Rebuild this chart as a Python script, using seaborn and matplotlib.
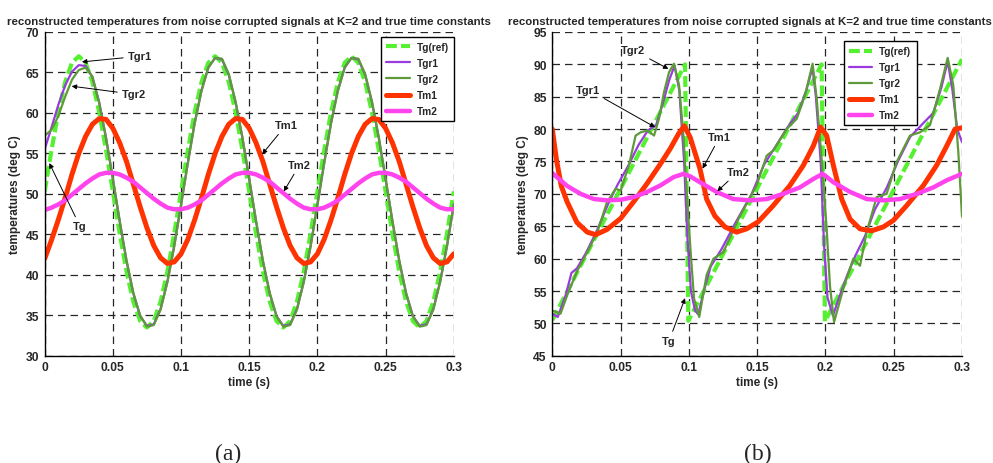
import numpy as np
import seaborn as sns
import matplotlib
matplotlib.use("Agg")
import matplotlib.pyplot as plt

# ---- panel (a): sinusoidal gas temperature, sampled every 5 ms ----
t_a = np.linspace(0, 0.3, 61)
tg_a = [50.3, 55.4, 60.1, 63.8, 66.2, 67.0, 66.2, 63.8, 60.1, 55.4,
        50.3, 45.1, 40.4, 36.7, 34.3, 33.5, 34.3, 36.7, 40.4, 45.1,
        50.3, 55.4, 60.1, 63.8, 66.2, 67.0, 66.2, 63.8, 60.1, 55.4,
        50.3, 45.1, 40.4, 36.7, 34.3, 33.5, 34.3, 36.7, 40.4, 45.1,
        50.3, 55.4, 60.1, 63.8, 66.2, 67.0, 66.2, 63.8, 60.1, 55.4,
        50.3, 45.1, 40.4, 36.7, 34.3, 33.5, 34.3, 36.7, 40.4, 45.1, 50.3]
tgr1_a = [55.5, 58.2, 61.0, 63.4, 65.1, 65.9, 65.8, 64.4, 61.3, 56.9,
          51.8, 46.6, 41.7, 37.7, 34.9, 33.7, 33.9, 35.8, 39.2, 43.6,
          48.7, 53.9, 58.8, 62.8, 65.6, 66.8, 66.6, 64.7, 61.3, 56.9,
          51.8, 46.6, 41.7, 37.7, 34.9, 33.7, 33.9, 35.8, 39.2, 43.6,
          48.7, 53.9, 58.8, 62.8, 65.6, 66.8, 66.6, 64.7, 61.3, 56.9,
          51.8, 46.6, 41.7, 37.7, 34.9, 33.7, 33.9, 35.8, 39.2, 43.6, 48.7]
tgr2_a = [57.2, 57.9, 59.6, 62.0, 64.1, 65.3, 65.6, 64.5, 61.2, 56.9,
          51.9, 46.7, 41.8, 37.8, 35.0, 33.6, 33.8, 35.7, 39.1, 43.5,
          48.6, 53.8, 58.7, 62.7, 65.6, 66.8, 66.7, 64.8, 61.4, 57.0,
          51.9, 46.7, 41.8, 37.8, 34.9, 33.6, 33.8, 35.7, 39.1, 43.5,
          48.6, 53.8, 58.7, 62.7, 65.6, 66.8, 66.7, 64.8, 61.4, 57.0,
          51.9, 46.7, 41.8, 37.8, 34.9, 33.6, 33.8, 35.7, 39.1, 43.5, 48.6]
tm1_a = [42.0, 44.3, 46.8, 49.5, 52.4, 55.0, 57.1, 58.6, 59.3, 59.2,
         58.1, 56.3, 54.0, 51.2, 48.4, 45.8, 43.6, 42.1, 41.4, 41.6,
         42.6, 44.4, 46.8, 49.5, 52.4, 55.0, 57.1, 58.6, 59.3, 59.2,
         58.1, 56.3, 54.0, 51.2, 48.4, 45.8, 43.6, 42.1, 41.4, 41.6,
         42.6, 44.4, 46.8, 49.5, 52.4, 55.0, 57.1, 58.6, 59.3, 59.2,
         58.1, 56.3, 54.0, 51.2, 48.4, 45.8, 43.6, 42.1, 41.4, 41.6, 42.6]
tm2_a = [48.0, 48.3, 48.7, 49.2, 49.9, 50.6, 51.3, 51.9, 52.4, 52.6,
         52.6, 52.4, 52.0, 51.5, 50.8, 50.1, 49.4, 48.8, 48.3, 48.1,
         48.1, 48.3, 48.7, 49.2, 49.9, 50.6, 51.3, 51.9, 52.4, 52.6,
         52.6, 52.4, 52.0, 51.5, 50.8, 50.1, 49.4, 48.8, 48.3, 48.1,
         48.1, 48.3, 48.7, 49.2, 49.9, 50.6, 51.3, 51.9, 52.4, 52.6,
         52.6, 52.4, 52.0, 51.5, 50.8, 50.1, 49.4, 48.8, 48.3, 48.1, 48.1]

# ---- panel (b): sawtooth gas temperature ----
tg_b_t = [0.0, 0.0972, 0.0996, 0.1972, 0.1996, 0.3]
tg_b = [50.5, 90.0, 50.4, 90.0, 50.3, 90.8]

tgr1_b_t = [0.0, 0.004, 0.010, 0.014, 0.018, 0.025, 0.033, 0.041, 0.048, 0.056,
            0.063, 0.070, 0.076, 0.081, 0.0855, 0.0895, 0.093, 0.0965, 0.099,
            0.1015, 0.1045, 0.1068, 0.111, 0.116, 0.124, 0.134, 0.146, 0.155,
            0.164, 0.172, 0.180, 0.186, 0.1905, 0.193, 0.1965, 0.199, 0.2015,
            0.2055, 0.210, 0.216, 0.222, 0.229, 0.236, 0.245, 0.253, 0.262,
            0.272, 0.279, 0.285, 0.2895, 0.293, 0.2965, 0.300]
tgr1_b = [51.5, 51.0, 54.5, 57.8, 58.5, 61.0, 64.5, 68.5, 71.5, 74.5,
          77.5, 79.8, 80.6, 84.0, 87.5, 89.8, 86.0, 75.0, 63.0,
          55.0, 52.0, 51.4, 55.0, 58.8, 61.5, 65.5, 70.0, 74.5,
          77.5, 80.2, 82.5, 86.0, 89.5, 85.0, 75.0, 62.0, 54.0,
          51.2, 54.0, 57.5, 60.5, 63.5, 67.5, 71.0, 75.0, 78.8,
          81.0, 82.5, 86.5, 90.5, 86.0, 80.0, 78.0]

tgr2_b_t = [0.0, 0.006, 0.011, 0.018, 0.0256, 0.033, 0.040, 0.0464, 0.050,
            0.0561, 0.061, 0.0647, 0.0696, 0.0745, 0.0781, 0.0818, 0.0855,
            0.0891, 0.0928, 0.096, 0.0989, 0.1013, 0.1038, 0.1076, 0.113,
            0.118, 0.1252, 0.1374, 0.1496, 0.157, 0.1618, 0.1716, 0.179,
            0.185, 0.1906, 0.1936, 0.1972, 0.2009, 0.2033, 0.2063, 0.2131,
            0.2204, 0.2253, 0.2302, 0.2375, 0.2448, 0.2521, 0.2619, 0.2692,
            0.2765, 0.2839, 0.2895, 0.2936, 0.2973, 0.300]
tgr2_b = [52.0, 51.5, 54.4, 58.0, 61.0, 64.1, 68.7, 70.8, 70.5,
          74.4, 79.0, 79.5, 79.8, 79.0, 81.6, 85.7, 88.8,
          90.1, 86.8, 79.0, 68.7, 61.0, 53.8, 51.0, 57.5,
          60.0, 61.0, 66.6, 71.3, 75.9, 76.7, 80.0, 81.6,
          85.2, 90.1, 84.7, 75.4, 64.6, 55.8, 50.2, 55.4,
          60.0, 58.9, 64.1, 69.5, 70.0, 74.9, 79.0, 79.5,
          80.6, 86.2, 91.0, 86.8, 76.4, 66.5]

tm1_b_t = [0.0, 0.003, 0.0066, 0.011, 0.018, 0.0256, 0.0317, 0.040, 0.050,
           0.0596, 0.0694, 0.0791, 0.0864, 0.0925, 0.0967, 0.101, 0.1032,
           0.1081, 0.113, 0.119, 0.1264, 0.1349, 0.1423, 0.1508, 0.1618,
           0.174, 0.1838, 0.1911, 0.1965, 0.2009, 0.2058, 0.2119, 0.218,
           0.2253, 0.2338, 0.2424, 0.2497, 0.2595, 0.2717, 0.2814, 0.2888,
           0.2949, 0.300]
tm1_b = [80.0, 75.3, 71.2, 68.7, 65.6, 64.1, 63.7, 64.5, 66.2,
         68.8, 71.6, 74.6, 77.0, 79.3, 80.5, 78.7, 77.2,
         73.9, 69.2, 66.6, 64.9, 64.1, 64.6, 65.7, 68.2,
         71.3, 74.4, 77.4, 80.3, 79.0, 74.4, 69.2, 66.1,
         64.6, 64.3, 64.9, 65.9, 68.2, 71.3, 74.4, 77.4,
         80.0, 80.2]

tm2_b_t = [0.0, 0.011, 0.0208, 0.0305, 0.0403, 0.050, 0.0596, 0.0694, 0.0791,
           0.0889, 0.0962, 0.101, 0.1081, 0.1203, 0.1325, 0.1447, 0.157,
           0.1691, 0.1813, 0.1911, 0.198, 0.2058, 0.218, 0.2302, 0.2424,
           0.2546, 0.2668, 0.279, 0.2888, 0.300]
tm2_b = [73.2, 71.2, 70.0, 69.2, 69.0, 69.1, 69.5, 70.3, 71.3,
         72.6, 73.1, 72.7, 71.8, 70.3, 69.2, 69.0, 69.2,
         70.0, 71.0, 72.3, 73.1, 71.8, 70.3, 69.2, 69.0,
         69.2, 70.0, 71.0, 72.1, 73.1]

labels = ["Tg(ref)", "Tgr1", "Tgr2", "Tm1", "Tm2"]
colors = ["#55f030", "#9a3be0", "#5f9a3a", "#ff3300", "#ff44ee"]
widths = [3.0, 1.6, 1.6, 3.6, 3.2]

title = "reconstructed temperatures from noise corrupted signals at K=2 and true time constants"
xticks = [0, 0.05, 0.1, 0.15, 0.2, 0.25, 0.3]
xticklabels = ["0", "0.05", "0.1", "0.15", "0.2", "0.25", "0.3"]

sns.set_style("white")
plt.rcParams["font.family"] = ["Liberation Sans", "DejaVu Sans"]
plt.rcParams["font.weight"] = "bold"

fig = plt.figure(figsize=(9.93, 4.64), dpi=100)
ax_a = fig.add_axes([0.045, 0.231, 0.412, 0.698])
ax_b = fig.add_axes([0.5562, 0.231, 0.4126, 0.698])


def draw(ax, series):
    for (x, y), lab, c, lw in zip(series, labels, colors, widths):
        line = sns.lineplot(x=x, y=y, ax=ax, color=c, lw=lw, label=lab,
                            estimator=None, sort=False).lines[-1]
        if lab == "Tg(ref)":
            line.set_dashes((2.6, 1.0))


draw(ax_a, [(t_a, tg_a), (t_a, tgr1_a), (t_a, tgr2_a), (t_a, tm1_a), (t_a, tm2_a)])
draw(ax_b, [(tg_b_t, tg_b), (tgr1_b_t, tgr1_b), (tgr2_b_t, tgr2_b),
            (tm1_b_t, tm1_b), (tm2_b_t, tm2_b)])

panels = [(ax_a, (30, 70), (1.0, 0.985), 0.5), (ax_b, (45, 95), (0.889, 0.972), 0.482)]
for ax, ylim, leg_anchor, title_x in panels:
    ax.set_xlim(0, 0.3)
    ax.set_ylim(*ylim)
    ax.set_xticks(xticks)
    ax.set_xticklabels(xticklabels)
    ax.set_yticks(np.arange(ylim[0], ylim[1] + 1, 5))
    ax.tick_params(direction="in", length=3, labelsize=8.7, pad=4, color="k")
    ax.grid(True, color="0.15", linestyle=(0, (6, 4)), lw=0.9)
    for s in ["top", "right"]:
        ax.spines[s].set_visible(False)
    for s in ["left", "bottom"]:
        ax.spines[s].set_color("k")
        ax.spines[s].set_linewidth(1.0)
    ax.set_title(title, fontsize=8.2, fontweight="bold", pad=6, x=title_x)
    ax.set_xlabel("time (s)", fontsize=8.5, fontweight="bold", labelpad=2)
    ax.set_ylabel("temperatures (deg C)", fontsize=8.5, fontweight="bold", labelpad=3)
    leg = ax.legend(loc="upper right", bbox_to_anchor=leg_anchor, fontsize=7.3,
                    frameon=True, fancybox=False, framealpha=1, edgecolor="k",
                    handlelength=2.3, labelspacing=0.6, borderpad=0.5,
                    handletextpad=0.7, borderaxespad=0)
    leg.get_frame().set_linewidth(1.0)

arrow = dict(arrowstyle="-|>", color="k", lw=0.7, mutation_scale=7, shrinkA=1, shrinkB=0)
notes_a = [("Tgr1", (0.0273, 66.3), (0.0698, 67.0)),
           ("Tgr2", (0.0198, 63.3), (0.0655, 62.3)),
           ("Tg", (0.0034, 53.8), (0.0259, 46.0)),
           ("Tm1", (0.1595, 54.9), (0.177, 58.5)),
           ("Tm2", (0.1753, 50.3), (0.187, 53.6))]
notes_b = [("Tgr2", (0.085, 89.3), (0.0591, 92.2)),
           ("Tgr1", (0.0752, 80.3), (0.0264, 86.1)),
           ("Tg", (0.0972, 53.9), (0.0855, 47.3)),
           ("Tm1", (0.110, 73.9), (0.1226, 78.8)),
           ("Tm2", (0.1208, 70.4), (0.136, 73.4))]
for ax, notes in [(ax_a, notes_a), (ax_b, notes_b)]:
    for txt, xy, xytext in notes:
        ax.annotate(txt, xy=xy, xytext=xytext, fontsize=8, fontweight="bold",
                    ha="center", va="center", arrowprops=arrow)

fig.text(0.2296, 0.021, "(a)", family="Liberation Serif", fontweight="normal",
         fontsize=17, ha="center", va="center")
fig.text(0.7633, 0.021, "(b)", family="Liberation Serif", fontweight="normal",
         fontsize=17, ha="center", va="center")

fig.savefig("out.png", dpi=100)
